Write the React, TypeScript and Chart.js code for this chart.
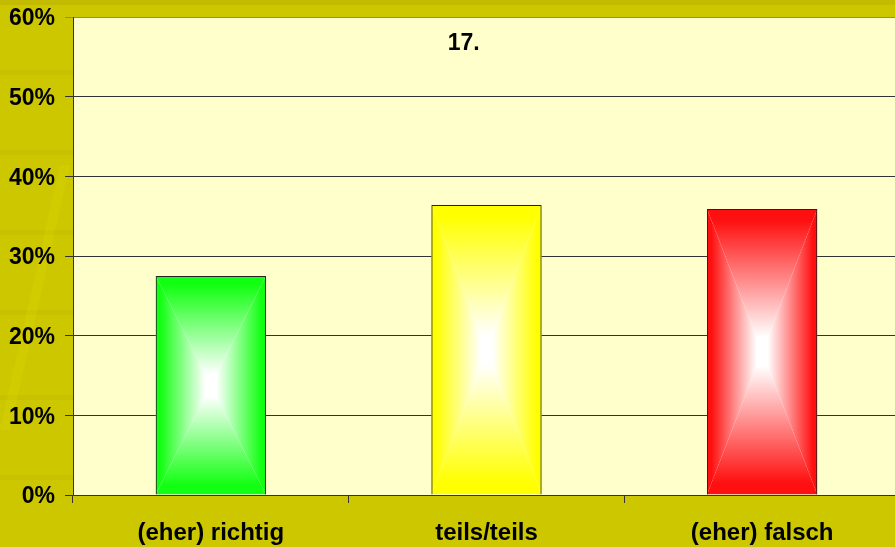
import React, { useEffect, useRef } from "react";
import { Chart, registerables } from "chart.js";

Chart.register(...registerables);

const categories = ["(eher) richtig", "teils/teils", "(eher) falsch"];
const values = [27.5, 36.4, 35.9];
const barColors = ["#11ff11", "#ffff00", "#ff1010"];
const yTicks = [0, 10, 20, 30, 40, 50, 60];
const titleText = "17.";

const FONT = "'Liberation Sans', Arial, sans-serif";

const bgPlugin = {
  id: "bgPlugin",
  beforeDraw(chart: any) {
    const { ctx, width, height, chartArea } = chart;
    ctx.save();
    ctx.fillStyle = "#cdc700";
    ctx.fillRect(0, 0, width, height);
    ctx.fillStyle = "rgba(170,160,0,0.3)";
    ctx.fillRect(0, 0, width, 5);
    ctx.fillStyle = "rgba(170,160,0,0.15)";
    [70, 150, 230, 310, 395, 475].forEach((y) => ctx.fillRect(0, y, chartArea.left, 5));
    ctx.fillStyle = "rgba(225,220,0,0.25)";
    ctx.beginPath();
    ctx.moveTo(0, 430);
    ctx.lineTo(60, 165);
    ctx.lineTo(70, 165);
    ctx.lineTo(10, 430);
    ctx.closePath();
    ctx.fill();
    ctx.fillStyle = "#ffffcc";
    ctx.fillRect(chartArea.left, chartArea.top, chartArea.right - chartArea.left, chartArea.bottom - chartArea.top);
    ctx.restore();
  },
};

const gradPlugin = {
  id: "gradPlugin",
  beforeDatasetsDraw(chart: any) {
    const { ctx } = chart;
    const meta = chart.getDatasetMeta(0);
    meta.data.forEach((bar: any, i: number) => {
      const p = bar.getProps(["x", "y", "base", "width"], true);
      const L = p.x - p.width / 2;
      const R = p.x + p.width / 2;
      const T = Math.min(p.y, p.base);
      const B = Math.max(p.y, p.base);
      const cx = (L + R) / 2;
      const cy = (T + B) / 2;
      const col = barColors[i];
      const tri = (pts: number[][], x0: number, y0: number, x1: number, y1: number) => {
        const g = ctx.createLinearGradient(x0, y0, x1, y1);
        g.addColorStop(0, col);
        g.addColorStop(0.08, col);
        g.addColorStop(0.9, "#ffffff");
        g.addColorStop(1, "#ffffff");
        ctx.fillStyle = g;
        ctx.beginPath();
        ctx.moveTo(pts[0][0], pts[0][1]);
        ctx.lineTo(pts[1][0], pts[1][1]);
        ctx.lineTo(pts[2][0], pts[2][1]);
        ctx.closePath();
        ctx.fill();
      };
      ctx.save();
      ctx.beginPath();
      ctx.rect(L, T, R - L, B - T);
      ctx.clip();
      ctx.fillStyle = "#ffffff";
      ctx.fillRect(L, T, R - L, B - T);
      tri([[L, T], [R, T], [cx, cy]], cx, T, cx, cy);
      tri([[L, B], [R, B], [cx, cy]], cx, B, cx, cy);
      tri([[L, T], [L, B], [cx, cy]], L, cy, cx, cy);
      tri([[R, T], [R, B], [cx, cy]], R, cy, cx, cy);
      ctx.restore();
    });
  },
};

const titlePlugin = {
  id: "titlePlugin",
  afterDraw(chart: any) {
    const { ctx, chartArea } = chart;
    ctx.save();
    ctx.font = `bold 23px ${FONT}`;
    ctx.fillStyle = "#000";
    ctx.textAlign = "center";
    ctx.textBaseline = "middle";
    ctx.fillText(titleText, chartArea.left + (chartArea.right - chartArea.left) * 0.4725, chartArea.top + 27);
    ctx.restore();
  },
};

export default function App() {
  const ref = useRef<HTMLCanvasElement>(null);
  useEffect(() => {
    const chart = new Chart(ref.current!, {
      type: "bar",
      data: {
        labels: categories,
        datasets: [
          {
            data: values,
            backgroundColor: "rgba(0,0,0,0)",
            borderColor: "#222",
            borderWidth: 1,
            barPercentage: 0.4,
            categoryPercentage: 1,
          },
        ],
      },
      options: {
        responsive: false,
        animation: false,
        devicePixelRatio: 1,
        layout: { padding: { top: 17, left: 0, right: 0, bottom: 0 } },
        plugins: { legend: { display: false }, tooltip: { enabled: false }, title: { display: false } },
        scales: {
          x: {
            grid: { offset: true, drawOnChartArea: false, tickLength: 8, color: "#333" },
            border: { color: "#333", width: 1 },
            ticks: { color: "#000", font: { family: FONT, size: 24, weight: "bold" }, padding: 16, maxRotation: 0 },
            afterFit: (s: any) => {
              s.height = 52;
              s.paddingLeft = 0;
              s.paddingRight = 0;
            },
          },
          y: {
            min: 0,
            max: 60,
            afterBuildTicks: (s: any) => {
              s.ticks = yTicks.map((v) => ({ value: v }));
            },
            grid: {
              tickLength: 8,
              color: (c: any) => (c.tick && c.tick.value === 60 ? "#888" : "#333"),
            },
            border: { color: "#333", width: 1 },
            ticks: {
              color: "#000",
              padding: 10,
              labelOffset: 2,
              font: { family: FONT, size: 23, weight: "bold" },
              callback: (v: any) => `${v}%`,
            },
            afterFit: (s: any) => {
              s.width = 73;
              s.paddingTop = 0;
              s.paddingBottom = 0;
            },
          },
        },
      },
      plugins: [bgPlugin, gradPlugin, titlePlugin],
    });
    return () => chart.destroy();
  }, []);
  return (
    <div style={{ position: "fixed", left: 0, top: 0, width: 900, height: 547 }}>
      <canvas ref={ref} width={900} height={547} style={{ display: "block" }} />
    </div>
  );
}
